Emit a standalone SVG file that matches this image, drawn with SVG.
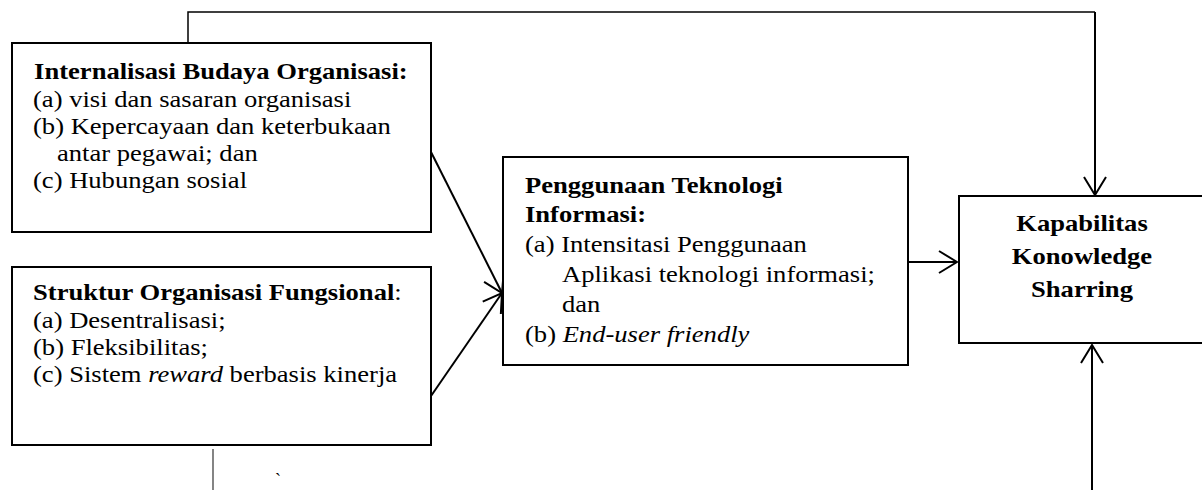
<svg xmlns="http://www.w3.org/2000/svg" width="1202" height="490" viewBox="0 0 1202 490">
<style>
.box{fill:#fff;stroke:#000;stroke-width:2}
.t{font-family:"Liberation Serif","Times New Roman",serif;font-size:24px;fill:#000}
.b{font-weight:bold}
.i{font-style:italic}
.ln{fill:none;stroke:#000;stroke-width:2}
.thin{fill:none;stroke:#000;stroke-width:1.5}
</style>
<defs>
<marker id="ah" viewBox="0 0 20 24" refX="19" refY="12" markerWidth="20" markerHeight="24" markerUnits="userSpaceOnUse" orient="auto">
<path d="M1,1 L19,12 L1,23" fill="none" stroke="#000" stroke-width="2"/>
</marker>
</defs>
<g id="connectors">
<polyline class="thin" points="188,43 188,12 1095,12"/>
<line class="ln" x1="1095" y1="12" x2="1095" y2="195" marker-end="url(#ah)"/>
<line class="ln" x1="1092" y1="490" x2="1092" y2="345" marker-end="url(#ah)"/>
<line class="ln" x1="908" y1="262" x2="957" y2="262" marker-end="url(#ah)"/>
<line class="ln" x1="431" y1="152" x2="502" y2="293" marker-end="url(#ah)"/>
<line class="ln" x1="431" y1="396" x2="502" y2="293" marker-end="url(#ah)"/>
<line x1="213" y1="449" x2="213" y2="490" stroke="#333" stroke-width="1.2"/>
</g>
<g id="node-budaya">
<rect class="box" x="12" y="43" width="419" height="189"/>
<g transform="translate(33,0) scale(1.108,1)">
<text class="t b" x="1" y="79">Internalisasi Budaya Organisasi:</text>
<text class="t" x="0" y="107">(a) visi dan sasaran organisasi</text>
<text class="t" x="0" y="134">(b) Kepercayaan dan keterbukaan</text>
<text class="t" x="21.7" y="161">antar pegawai; dan</text>
<text class="t" x="0" y="188">(c) Hubungan sosial</text>
</g>
</g>
<g id="node-struktur">
<rect class="box" x="12" y="267" width="419" height="178"/>
<g transform="translate(33,0) scale(1.108,1)">
<text class="t" x="0" y="300"><tspan class="b">Struktur Organisasi Fungsional</tspan>:</text>
<text class="t" x="0" y="328">(a) Desentralisasi;</text>
<text class="t" x="0" y="355">(b) Fleksibilitas;</text>
<text class="t" x="0" y="382">(c) Sistem <tspan class="i">reward</tspan> berbasis kinerja</text>
</g>
</g>
<g id="node-teknologi">
<rect class="box" x="503" y="157" width="405" height="208"/>
<g transform="translate(525,0) scale(1.108,1)">
<text class="t b" x="0" y="193">Penggunaan Teknologi</text>
<text class="t b" x="0" y="222">Informasi:</text>
<text class="t" x="0" y="252">(a) Intensitasi Penggunaan</text>
<text class="t" x="33.4" y="282">Aplikasi teknologi informasi;</text>
<text class="t" x="33.4" y="312">dan</text>
<text class="t" x="0" y="342">(b) <tspan class="i">End-user friendly</tspan></text>
</g>
</g>
<g id="node-kapabilitas">
<rect class="box" x="959" y="196" width="250" height="147"/>
<g transform="translate(1082,0) scale(1.108,1)">
<text class="t b" x="0" y="231" text-anchor="middle">Kapabilitas</text>
<text class="t b" x="0" y="264" text-anchor="middle">Konowledge</text>
<text class="t b" x="0" y="297" text-anchor="middle">Sharring</text>
</g>
</g>
<text class="t" x="275" y="486" style="font-size:18px">`</text>
</svg>
